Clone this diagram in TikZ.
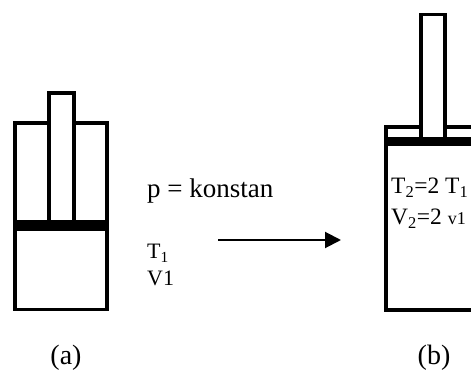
\documentclass[tikz,border=0pt]{standalone}
\usepackage{fontspec}
\setmainfont{Liberation Serif}
\usetikzlibrary{arrows.meta}
\tikzset{>=latex}
\tikzset{
  wall/.style={line width=3.4pt, line cap=butt, line join=miter},
  piston/.style={fill=black, draw=none},
  label/.style={inner sep=0pt, anchor=base west, font=\fontsize{22}{22}\selectfont},
  caption/.style={inner sep=0pt, anchor=base, font=\fontsize{28}{28}\selectfont},
}
\begin{document}
\begin{tikzpicture}[x=1pt, y=-1pt]

  \useasboundingbox (0,0) rectangle (471,371);

  % Cylinder (a)
  \draw[wall] (49,123) -- (15,123) -- (15,309.5) -- (107,309.5) -- (107,123) -- (74,123);
  \draw[wall] (49,226) -- (49,93) -- (74,93) -- (74,226);
  \fill[piston] (13.3,220) rectangle (108.7,231);

  % Cylinder (b)
  \draw[wall] (421,127) -- (386,127) -- (386,310) -- (471,310);
  \draw[wall] (445,127) -- (471,127);
  \draw[wall] (421,142) -- (421,14.5) -- (445,14.5) -- (445,142);
  \fill[piston] (384.3,137) rectangle (471,146);

  % Nodes
  \node[label, font=\fontsize{27}{27}\selectfont] (pconst) at (147,198) {p = konstan};
  \node[label] (t1) at (147,259) {T\textsubscript{1}};
  \node[label] (v1) at (147,286) {V1};
  \node[label, font=\fontsize{23.5}{24}\selectfont] (t2) at (391,194) {T\textsubscript{2}=2 T\textsubscript{1}};
  \node[label, font=\fontsize{23.5}{24}\selectfont] (v2) at (391,225) {V\textsubscript{2}=2 {\fontsize{18}{18}\selectfont v1}};
  \node[caption] (capa) at (66,364) {(a)};
  \node[caption] (capb) at (434,364) {(b)};

  % Edges
  \coordinate (arrowstart) at (218,240);
  \coordinate (arrowend) at (341,240);
  \draw[-{Triangle[length=16pt,width=16pt]}, line width=2pt] (arrowstart) -- (arrowend);

\end{tikzpicture}
\end{document}
